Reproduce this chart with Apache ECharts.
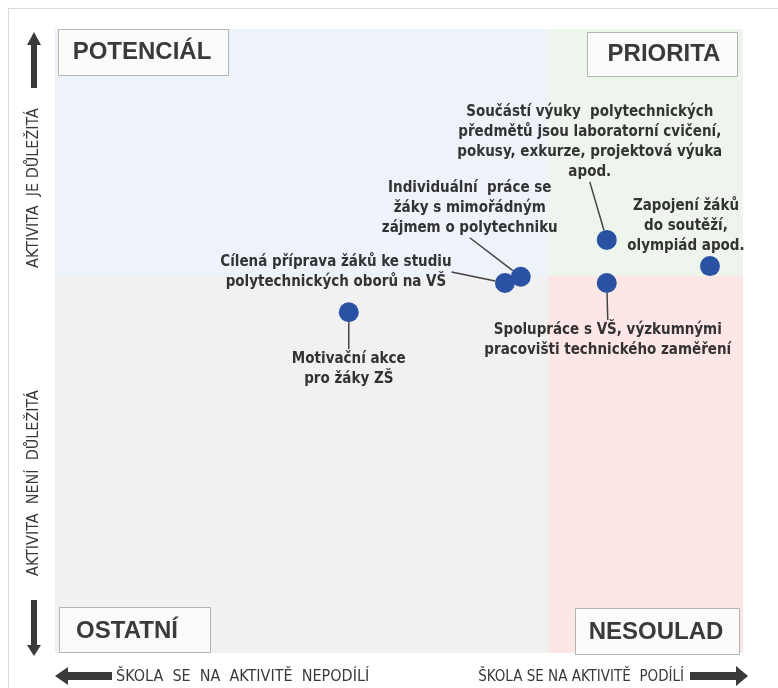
<!DOCTYPE html>
<html>
<head>
<meta charset="utf-8">
<script src="https://cdn.jsdelivr.net/npm/echarts@6/dist/echarts.min.js"></script>
<style>
  html, body { margin: 0; padding: 0; background: #fff; }
  #main { width: 778px; height: 688px; }
</style>
</head>
<body>
<div id="main"></div>
<script>
// aktivity (osa x = podíl školy, osa y = důležitost)
var names = [
    'Motivační akce\npro žáky ZŠ',
    'Cílená příprava žáků ke studiu\npolytechnických oborů na VŠ',
    'Individuální  práce se\nžáky s mimořádným\nzájmem o polytechniku',
    'Součástí výuky  polytechnických\npředmětů jsou laboratorní cvičení,\npokusy, exkurze, projektová výuka\napod.',
    'Spolupráce s VŠ, výzkumnými\npracovišti technického zaměření',
    'Zapojení žáků\ndo soutěží,\nolympiád apod.'
];
var xValues = [42.7, 65.4, 67.7, 80.2, 80.2, 95.2];
var yValues = [54.6, 59.3, 60.3, 66.2, 59.3, 62.0];
var xSplit = 71.7;
var ySplit = 60.4;
var quadrantNames = ['POTENCIÁL', 'PRIORITA', 'OSTATNÍ', 'NESOULAD'];

// posun popisku od bodu (px)
var labelOffsets = [[0, 57], [-169, -11], [-51, -69], [-17, -98], [1, 57], [-24, -40]];
var withLine = [true, true, true, true, true, false];

var narrow = '"Liberation Sans Narrow", "DejaVu Sans Condensed", "Liberation Sans", sans-serif';
var ink = '#3a3a3a';

var points = xValues.map(function (x, i) {
    return {
        name: names[i],
        value: [x, yValues[i]],
        labelLine: {show: withLine[i]}
    };
});

function box(x, y, w, h, text, cx, cy) {
    return [
        {type: 'rect', z: 100, shape: {x: x + 0.5, y: y + 0.5, width: w, height: h},
         style: {fill: '#fbfbfb', stroke: '#b4b4b4', lineWidth: 1}},
        {type: 'text', z: 101, x: cx, y: cy,
         style: {text: text, fill: ink, font: 'bold 24px "Liberation Sans", Arial, sans-serif',
                 align: 'center', verticalAlign: 'middle'}}
    ];
}

function arrow(points) {
    return {type: 'polygon', z: 100, shape: {points: points}, style: {fill: ink}};
}

function sideText(text, x, y, size, rot, align) {
    return {type: 'text', z: 100, x: x, y: y, rotation: rot,
            style: {text: text, fill: ink, font: size + 'px ' + narrow,
                    align: align, verticalAlign: 'middle'}};
}

var graphics = [
    // rámeček
    {type: 'line', z: 100, shape: {x1: 8, y1: 8.5, x2: 778, y2: 8.5}, style: {stroke: '#d9d9d9', lineWidth: 1}},
    {type: 'line', z: 100, shape: {x1: 8.5, y1: 8, x2: 8.5, y2: 688}, style: {stroke: '#d9d9d9', lineWidth: 1}},

    // šipky
    arrow([[34, 32], [41, 45], [27, 45]]),
    {type: 'rect', z: 100, shape: {x: 31, y: 44, width: 6, height: 44}, style: {fill: ink}},
    {type: 'rect', z: 100, shape: {x: 31, y: 600, width: 6, height: 46}, style: {fill: ink}},
    arrow([[27, 645], [41, 645], [34, 656]]),
    arrow([[55, 676], [68, 667], [68, 685]]),
    {type: 'rect', z: 100, shape: {x: 67, y: 672, width: 45, height: 8}, style: {fill: ink}},
    {type: 'rect', z: 100, shape: {x: 690, y: 672, width: 47, height: 8}, style: {fill: ink}},
    arrow([[736, 666], [748, 676], [736, 686]]),

    sideText('AKTIVITA  JE DŮLEŽITÁ', 34, 188, 16, Math.PI / 2, 'center'),
    sideText('AKTIVITA  NENÍ  DŮLEŽITÁ', 34, 483, 16, Math.PI / 2, 'center'),
    sideText('ŠKOLA  SE  NA  AKTIVITĚ  NEPODÍLÍ', 116, 677, 16, 0, 'left'),
    sideText('ŠKOLA SE NA AKTIVITĚ  PODÍLÍ', 684, 677, 15, 0, 'right')
].concat(
    box(58, 29, 170, 46, quadrantNames[0], 142, 52),
    box(587, 32, 150, 44, quadrantNames[1], 664, 54),
    box(59, 607, 151, 45, quadrantNames[2], 127, 631),
    box(575, 608, 164, 46, quadrantNames[3], 656, 632)
);

var option = {
    backgroundColor: '#fff',
    animation: false,
    grid: {left: 55, right: 35, top: 29, bottom: 35},
    xAxis: {type: 'value', min: 0, max: 100, show: false},
    yAxis: {type: 'value', min: 0, max: 100, show: false},
    series: [{
        type: 'scatter',
        symbolSize: 20,
        data: points,
        itemStyle: {
            color: '#2a51a3',
            opacity: 1
        },
        label: {
            show: true,
            position: 'inside',
            formatter: '{b}',
            color: '#333333',
            fontFamily: narrow,
            fontWeight: 'bold',
            fontSize: 15,
            lineHeight: 20,
            align: 'center'
        },
        labelLine: {
            show: true,
            lineStyle: {color: '#444444', width: 1.5}
        },
        labelLayout: function (p) {
            var o = labelOffsets[p.dataIndex];
            return {dx: o[0], dy: o[1]};
        },
        markArea: {
            silent: true,
            data: [
                [{xAxis: 0, yAxis: ySplit, itemStyle: {color: '#eef3fa'}}, {xAxis: xSplit, yAxis: 100}],
                [{xAxis: xSplit, yAxis: ySplit, itemStyle: {color: '#eef5ec'}}, {xAxis: 100, yAxis: 100}],
                [{xAxis: 0, yAxis: 0, itemStyle: {color: '#f1f1f1'}}, {xAxis: xSplit, yAxis: ySplit}],
                [{xAxis: xSplit, yAxis: 0, itemStyle: {color: '#fde6e6'}}, {xAxis: 100, yAxis: ySplit}]
            ]
        }
    }],
    graphic: graphics
};

var chart = echarts.init(document.getElementById('main'));
chart.setOption(option);
</script>
</body>
</html>
